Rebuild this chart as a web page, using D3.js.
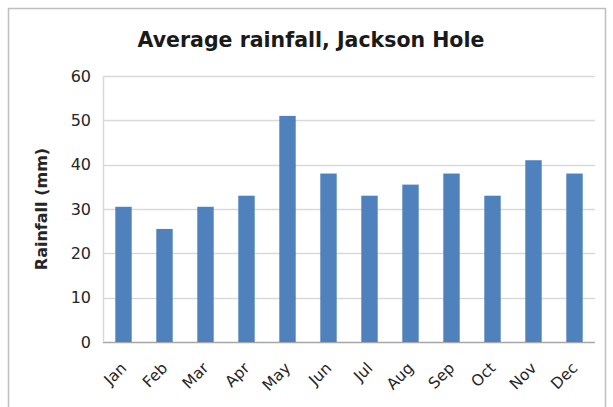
<!DOCTYPE html>
<html>
<head>
<meta charset="utf-8">
<script src="https://cdnjs.cloudflare.com/ajax/libs/d3/7.8.5/d3.min.js"></script>
<style>
  body { margin: 0; background: #fff; }
  svg { display: block; font-family: "DejaVu Sans", Verdana, sans-serif; }
</style>
</head>
<body>
<svg class="chart" width="613" height="407"></svg>
<script>
// Chart data
const months = ['Jan', 'Feb', 'Mar', 'Apr', 'May', 'Jun', 'Jul', 'Aug', 'Sep', 'Oct', 'Nov', 'Dec'];
const rainfall = [30.5, 25.5, 30.5, 33, 51, 38, 33, 35.5, 38, 33, 41, 38];
const yTicks = [0, 10, 20, 30, 40, 50, 60];

const svg = d3.select('.chart');

// outer frame
svg.append('rect')
    .attr('x', 8.5).attr('y', 8.5)
    .attr('width', 597).attr('height', 400)
    .attr('fill', '#fff')
    .attr('stroke', '#bfbfbf')
    .attr('stroke-width', 1.5);

const margin = { top: 76, right: 18, bottom: 65, left: 103 };
const width = 613 - margin.left - margin.right;
const height = 407 - margin.top - margin.bottom;

const x = d3.scaleBand()
    .domain(months)
    .range([0, width])
    .paddingInner(0.6)
    .paddingOuter(0.3);

const y = d3.scaleLinear()
    .domain([0, 60])
    .range([height, 0]);

const g = svg.append('g')
    .attr('transform', 'translate(' + margin.left + ',' + margin.top + ')');

// gridlines
g.append('g')
    .selectAll('line')
    .data(yTicks)
    .enter().append('line')
    .attr('x1', 0).attr('x2', width)
    .attr('y1', d => Math.round(y(d)) + 0.5)
    .attr('y2', d => Math.round(y(d)) + 0.5)
    .attr('stroke', d => d === 0 ? '#a6a6a6' : '#d9d9d9')
    .attr('stroke-width', 1.5);

// left axis line
g.append('line')
    .attr('x1', 0.5).attr('x2', 0.5)
    .attr('y1', 0).attr('y2', height)
    .attr('stroke', '#d9d9d9')
    .attr('stroke-width', 1.5);

// y axis labels
const yAxis = g.append('g')
    .call(d3.axisLeft(y).tickValues(yTicks).tickSize(0).tickPadding(12));
yAxis.select('.domain').remove();
yAxis.selectAll('text')
    .attr('font-size', 16)
    .attr('font-family', '"DejaVu Sans", Verdana, sans-serif')
    .attr('fill', '#262626');

// bars
g.selectAll('.bar')
    .data(rainfall)
    .enter().append('rect')
    .attr('class', 'bar')
    .attr('x', (d, i) => x(months[i]))
    .attr('y', d => y(d))
    .attr('width', x.bandwidth())
    .attr('height', d => height - y(d))
    .attr('fill', '#4f81bd');

// x axis labels
const xAxis = g.append('g')
    .attr('transform', 'translate(0,' + height + ')')
    .call(d3.axisBottom(x).tickSize(0).tickPadding(0));
xAxis.select('.domain').remove();
xAxis.selectAll('text')
    .attr('font-size', 15.5)
    .attr('font-family', '"DejaVu Sans", Verdana, sans-serif')
    .attr('fill', '#262626')
    .attr('text-anchor', 'end')
    .attr('dy', 0)
    .attr('transform', 'translate(4,27) rotate(-45)');

// axis title
svg.append('text')
    .attr('transform', 'translate(47,' + (margin.top + height / 2) + ') rotate(-90)')
    .attr('text-anchor', 'middle')
    .attr('font-size', 16)
    .attr('font-weight', 'bold')
    .attr('fill', '#262626')
    .text('Rainfall (mm)');

// chart title
svg.append('text')
    .attr('x', 311)
    .attr('y', 47)
    .attr('text-anchor', 'middle')
    .attr('font-size', 20.5)
    .attr('font-weight', 'bold')
    .attr('fill', '#1a1a1a')
    .text('Average rainfall, Jackson Hole');
</script>
</body>
</html>
